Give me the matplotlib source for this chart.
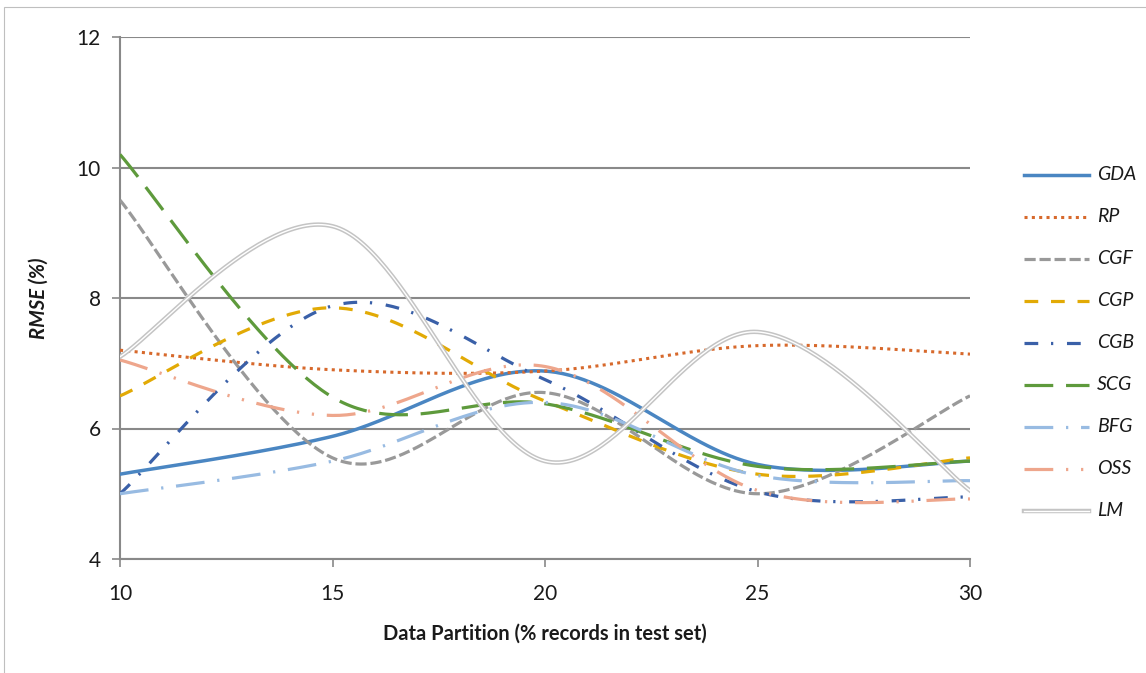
import numpy as np
import matplotlib
matplotlib.use("Agg")
import matplotlib.pyplot as plt
import matplotlib.patheffects as pe
from matplotlib.patches import Rectangle
from matplotlib.lines import Line2D

# ---- data ----
x_values = [10, 15, 20, 25, 30]
GDA = [5.30, 5.88, 6.88, 5.45, 5.50]
RP = [7.20, 6.90, 6.88, 7.27, 7.14]
CGF = [9.50, 5.55, 6.55, 5.00, 6.50]
CGP = [6.50, 7.85, 6.42, 5.30, 5.55]
CGB = [5.00, 7.88, 6.75, 5.03, 4.95]
SCG = [10.20, 6.48, 6.38, 5.42, 5.50]
BFG = [5.00, 5.50, 6.40, 5.28, 5.20]
OSS = [7.05, 6.20, 6.95, 5.05, 4.92]
LM = [7.10, 9.10, 5.50, 7.48, 5.05]

series_names = ["GDA", "RP", "CGF", "CGP", "CGB", "SCG", "BFG", "OSS", "LM"]
series_values = [GDA, RP, CGF, CGP, CGB, SCG, BFG, OSS, LM]
y_ticks = [4, 6, 8, 10, 12]
x_ticks = [10, 15, 20, 25, 30]

colors = {"GDA": "#4a86c2", "RP": "#d7692c", "CGF": "#999999", "CGP": "#e2aa05",
          "CGB": "#3a60a8", "SCG": "#5e9a3c", "BFG": "#98bbe2", "OSS": "#eea68c",
          "LM": "#ffffff"}
styles = {"GDA": "-", "RP": (0, (1, 1.4)), "CGF": (0, (3.5, 1.2)), "CGP": (0, (4.3, 4.0)),
          "CGB": (0, (4.3, 4.0, 0.7, 4.3)), "SCG": (0, (9, 4)),
          "BFG": (0, (9, 4, 0.7, 4)), "OSS": (0, (9, 4, 0.7, 4, 0.7, 4)), "LM": "-"}
widths = {"GDA": 2.5, "RP": 2.2, "CGF": 2.3, "CGP": 2.3, "CGB": 2.3, "SCG": 2.3,
          "BFG": 2.3, "OSS": 2.3, "LM": 1.0}
LM_EFFECT = [pe.Stroke(linewidth=3.2, foreground="#c4c4c4"), pe.Normal()]


def smooth(xs, ys, n=60):
    """Excel-like smoothed line: Catmull-Rom Bezier through data points."""
    xs = np.asarray(xs, float)
    ys = np.asarray(ys, float)
    P = np.column_stack([xs, ys])
    out = []
    for i in range(len(P) - 1):
        p0 = P[i - 1] if i > 0 else P[i]
        p1 = P[i]
        p2 = P[i + 1]
        p3 = P[i + 2] if i + 2 < len(P) else P[i + 1]
        c1 = p1 + (p2 - p0) / 6.0
        c2 = p2 - (p3 - p1) / 6.0
        t = np.linspace(0, 1, n, endpoint=(i == len(P) - 2))[:, None]
        b = ((1 - t) ** 3) * p1 + 3 * ((1 - t) ** 2) * t * c1 + 3 * (1 - t) * t ** 2 * c2 + t ** 3 * p2
        out.append(b)
    out = np.vstack(out)
    return out[:, 0], out[:, 1]


plt.rcParams['font.family'] = ['Lato', 'DejaVu Sans']

W, H = 1146, 673
fig = plt.figure(figsize=(W / 100, H / 100), dpi=100)
fig.patches.append(Rectangle((4 / W, -0.1), 1.2, 1 - 7 / H + 0.1, transform=fig.transFigure,
                             fill=False, edgecolor="#bfbfbf", linewidth=0.8))
ax = fig.add_axes([120 / W, 1 - 559 / H, (970 - 120) / W, (559 - 37) / H])

for name, vals in zip(series_names, series_values):
    sx, sy = smooth(x_values, vals)
    if name == "LM":
        ax.plot(sx, sy, color="#ffffff", lw=1.0, label=name, zorder=3, path_effects=LM_EFFECT)
    else:
        ax.plot(sx, sy, color=colors[name], lw=widths[name], ls=styles[name],
                label=name, zorder=3, dash_capstyle="butt")

ax.set_xlim(10, 30)
ax.set_ylim(4, 12)
ax.set_xticks(x_ticks)
ax.set_yticks(y_ticks)
ax.yaxis.grid(True, color="#898989", lw=1.5)
ax.set_axisbelow(True)
for s in ["top", "right"]:
    ax.spines[s].set_visible(False)
for s in ["left", "bottom"]:
    ax.spines[s].set_color("#898989")
    ax.spines[s].set_linewidth(1.5)
ax.tick_params(axis="both", direction="out", length=6, width=1.2, color="#898989",
               labelsize=15, labelcolor="#1a1a1a")
ax.tick_params(axis="x", pad=12)
ax.tick_params(axis="y", pad=8)

ax.set_xlabel("Data Partition (% records in test set)", fontsize=14.5, fontweight="bold",
              color="#1a1a1a", labelpad=14)
ax.set_ylabel("RMSE (%)", fontsize=14.5, fontweight="bold", fontstyle="italic",
              color="#1a1a1a", labelpad=20)

# ---- legend (drawn in figure pixel coordinates) ----
for i, name in enumerate(series_names):
    yy = 1 - (175 + 42 * i) / H
    xs_leg = [1024 / W, 1089 / W]
    if name == "LM":
        ln = Line2D(xs_leg, [yy, yy], transform=fig.transFigure, color="#ffffff", lw=1.0,
                    path_effects=LM_EFFECT)
    else:
        ln = Line2D(xs_leg, [yy, yy], transform=fig.transFigure, color=colors[name],
                    lw=widths[name], ls=styles[name], dash_capstyle="butt")
    fig.add_artist(ln)
    fig.text(1097 / W, yy, name, fontsize=14, fontstyle="italic", color="#1a1a1a",
             ha="left", va="center")

fig.savefig("out.png", dpi=100)
